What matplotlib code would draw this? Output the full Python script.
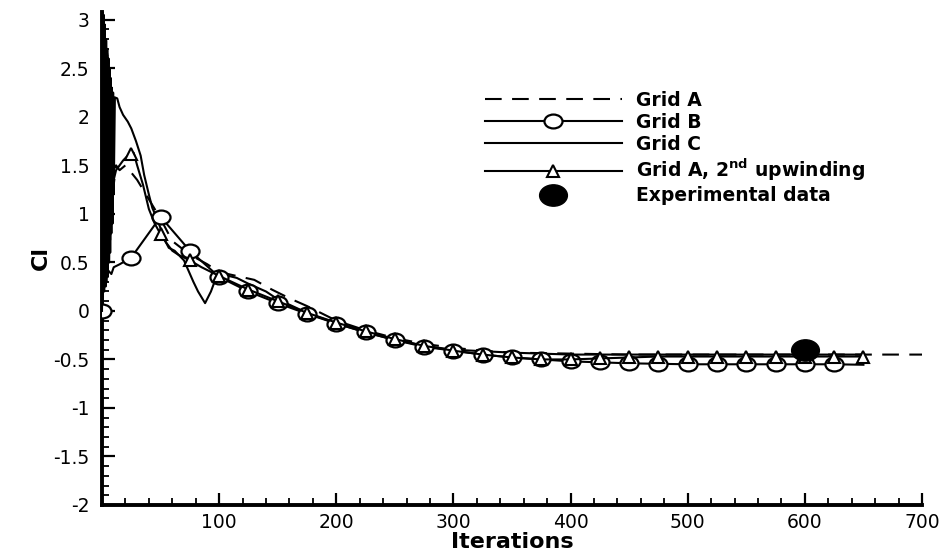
import numpy as np
import matplotlib
matplotlib.use("Agg")
import matplotlib.pyplot as plt
from matplotlib.lines import Line2D
from matplotlib.path import Path
from matplotlib.transforms import Affine2D
from matplotlib.ticker import MultipleLocator, FixedLocator

plt.rcParams['font.family'] = ['DejaVu Sans']
plt.rcParams['mathtext.fontset'] = 'dejavusans'

# ---------------- data ----------------
grid_a_iter = [0, 0.5, 1, 1.5, 2, 2.5, 3, 3.5, 4, 4.5, 5, 5.5, 6, 6.5, 7, 7.5, 8, 8.5,
               9, 9.5, 10, 12, 15, 20, 30, 40, 50, 60, 75, 90,
               100, 115, 130, 145, 160, 175, 200, 225, 250, 275, 300, 325, 350, 400,
               450, 500, 550, 600, 650, 700]
grid_a_cl = [0, 3.08, 0.25, 3.0, 0.3, 2.9, 0.35, 2.8, 0.4, 2.7, 0.5, 2.6, 0.6, 2.4,
             0.7, 2.2, 0.9, 2.0, 1.1, 1.8, 1.3, 1.5, 1.45, 1.5, 1.35,
             1.15, 0.95, 0.72, 0.58, 0.48, 0.40, 0.36, 0.32, 0.22, 0.13, 0.05, -0.10,
             -0.20, -0.28, -0.34, -0.38, -0.41, -0.43, -0.44, -0.45, -0.45, -0.45,
             -0.45, -0.45, -0.45]

grid_b_iter = [0, 1, 2, 3, 5, 8, 10, 15, 25, 50, 75, 100, 125, 150, 175, 200, 225, 250,
               275, 300, 325, 350, 375, 400, 425, 450, 475, 500, 525, 550, 575, 600,
               625, 650]
grid_b_cl = [0, 0.25, 0.45, 0.3, 0.42, 0.38, 0.45, 0.48, 0.55, 0.97, 0.62, 0.35, 0.20,
             0.08, -0.03, -0.13, -0.22, -0.30, -0.37, -0.41, -0.45, -0.48, -0.50,
             -0.52, -0.53, -0.54, -0.545, -0.55, -0.55, -0.55, -0.55, -0.55, -0.55,
             -0.555]

grid_c_iter = [0, 0.5, 1, 1.5, 2, 2.5, 3, 3.5, 4, 4.5, 5, 5.5, 6, 6.5, 7, 7.5, 8, 8.5,
               9, 9.5, 10, 11, 13, 15, 18, 22, 25, 29, 33, 36,
               40, 43, 47, 50, 54, 57, 62, 70, 78, 82, 88, 93, 97, 105, 115, 125, 140,
               150, 175, 200, 225, 250, 275, 300, 350, 400, 450, 500, 550, 600, 650]
grid_c_cl = [0, 2.9, 0.2, 3.05, 0.3, 2.95, 0.25, 2.8, 0.4, 2.7, 0.35, 2.6, 0.5, 2.5,
             0.6, 2.4, 0.8, 2.3, 0.9, 2.25, 1.2, 2.2, 2.19, 2.1, 2.02,
             1.95, 1.88, 1.75, 1.6, 1.4, 1.2, 1.06, 0.95, 0.85, 0.72, 0.65, 0.62, 0.52,
             0.30, 0.20, 0.08, 0.20, 0.33, 0.37, 0.34, 0.28, 0.20, 0.12, -0.02, -0.13,
             -0.22, -0.30, -0.36, -0.40, -0.43, -0.45, -0.45, -0.45, -0.45, -0.45,
             -0.45]

grid_a2_iter = [0, 1, 2, 3, 4, 5, 6, 7, 8, 9, 10, 12, 15, 18, 22, 25, 27, 30, 35, 40,
                45, 50, 55, 60, 65, 75, 85, 100, 125, 150, 175, 200, 225, 250, 275, 300,
                325, 350, 375, 400, 425, 450, 475, 500, 525, 550, 575, 600, 625, 650]
grid_a2_cl = [0, 1.6, 0.2, 1.5, 0.3, 1.4, 0.5, 1.45, 1.3, 1.5, 1.35, 1.45, 1.5, 1.55,
              1.6, 1.62, 1.63, 1.5, 1.3, 1.05, 0.9, 0.79, 0.70, 0.62, 0.58, 0.52, 0.45,
              0.36, 0.22, 0.10, -0.02, -0.12, -0.21, -0.29, -0.36, -0.41, -0.45, -0.48,
              -0.50, -0.50, -0.49, -0.48, -0.47, -0.47, -0.47, -0.47, -0.47, -0.47,
              -0.47, -0.47]

exp_iter = [600]
exp_cl = [-0.40]

series_labels = ["Grid A", "Grid B", "Grid C", r"Grid A, 2$^{\mathbf{nd}}$ upwinding",
                 "Experimental data"]
x_ticks = [100, 200, 300, 400, 500, 600, 700]
y_ticks = [-2, -1.5, -1, -0.5, 0, 0.5, 1, 1.5, 2, 2.5, 3]
x_label = "Iterations"
y_label = "Cl"

# ---------------- figure ----------------
fig = plt.figure(figsize=(9.5, 5.55), dpi=100)
ax = fig.add_axes([102 / 950, 50 / 555, 820 / 950, 493 / 555])

ellipse = Path.unit_circle().transformed(Affine2D().scale(1.3, 1.0))

lw = 1.5
ax.plot(grid_a_iter, grid_a_cl, color='black', lw=lw, dashes=(8, 5), zorder=3)
b_marks = [i for i, t in enumerate(grid_b_iter) if t % 25 == 0 and t <= 625]
ax.plot(grid_b_iter, grid_b_cl, color='black', lw=lw, marker=ellipse, markersize=13,
        markerfacecolor='white', markeredgecolor='black', markeredgewidth=1.6,
        markevery=b_marks, zorder=4)
ax.plot(grid_c_iter, grid_c_cl, color='black', lw=lw, zorder=3)
a2_marks = [i for i, t in enumerate(grid_a2_iter) if t % 25 == 0 and t > 0]
ax.plot(grid_a2_iter, grid_a2_cl, color='black', lw=lw, marker='^', markersize=8,
        markerfacecolor='white', markeredgecolor='black', markeredgewidth=1.5,
        markevery=a2_marks, zorder=4)
ax.plot(exp_iter, exp_cl, linestyle='none', marker=ellipse, markersize=20,
        color='black', zorder=6)

ax.set_xlim(0, 700)
ax.set_ylim(-2, 3.08)

ax.xaxis.set_major_locator(FixedLocator(x_ticks))
ax.xaxis.set_minor_locator(MultipleLocator(20))
ax.yaxis.set_major_locator(FixedLocator(y_ticks))
ax.yaxis.set_minor_locator(MultipleLocator(0.1))
ax.set_yticklabels(["%g" % v for v in y_ticks])
ax.set_xticklabels(["%g" % v for v in x_ticks])

for side in ['top', 'right']:
    ax.spines[side].set_visible(False)
for side in ['left', 'bottom']:
    ax.spines[side].set_linewidth(2.8)
ax.tick_params(which='major', direction='in', length=9, width=1.6, labelsize=13.5,
               pad=6)
ax.tick_params(which='minor', direction='in', length=5, width=1.3)
ax.tick_params(axis='y', pad=9)

ax.set_xlabel(x_label, fontsize=16, fontweight='bold', labelpad=0)
ax.set_ylabel(y_label, fontsize=16, fontweight='bold', labelpad=2)

handles = [
    Line2D([], [], color='black', lw=lw, dashes=(8, 5)),
    Line2D([], [], color='black', lw=lw, marker=ellipse, markersize=13,
           markerfacecolor='white', markeredgewidth=1.6),
    Line2D([], [], color='black', lw=lw),
    Line2D([], [], color='black', lw=lw, marker='^', markersize=8,
           markerfacecolor='white', markeredgewidth=1.5),
    Line2D([], [], color='black', linestyle='none', marker=ellipse, markersize=20),
]
leg = ax.legend(handles, series_labels, loc='upper left',
                bbox_to_anchor=(485 / 950, 1 - 91 / 555), bbox_transform=fig.transFigure,
                frameon=False, numpoints=1, handlelength=7.3, handletextpad=0.75,
                borderpad=0, borderaxespad=0, labelspacing=0.16,
                prop={'weight': 'bold', 'size': 13.5})

fig.savefig("out.png", dpi=100)
